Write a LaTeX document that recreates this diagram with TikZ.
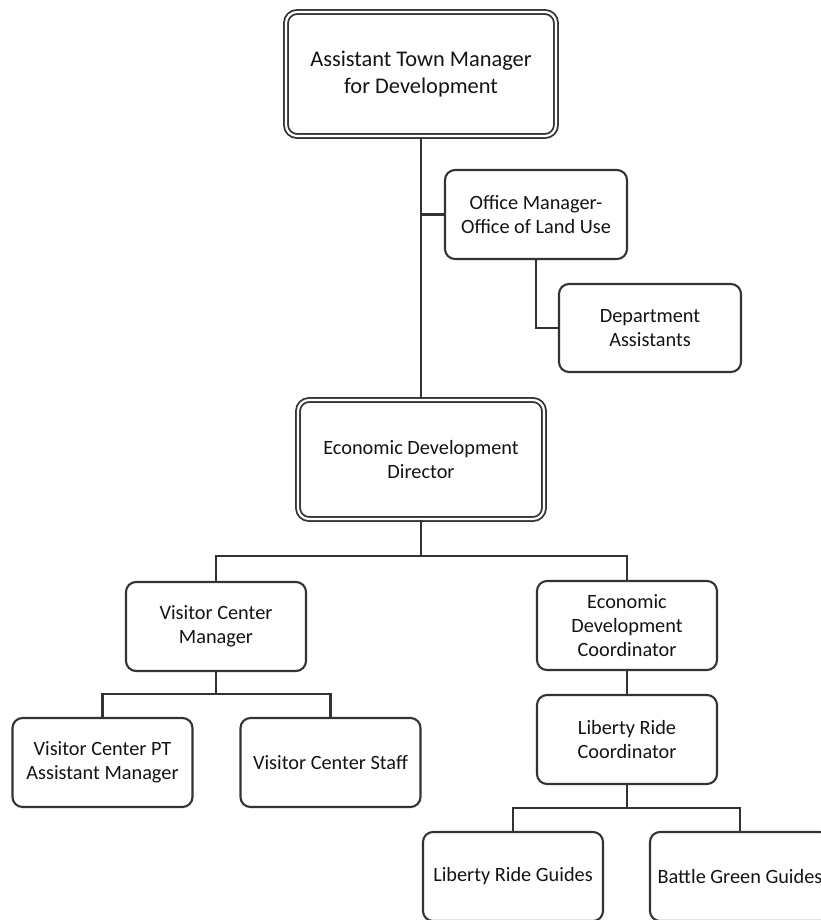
\documentclass[tikz,border=0pt]{standalone}
\usepackage{fontspec}
\setmainfont{Carlito}
\begin{document}
\begin{tikzpicture}[x=1pt,y=-1pt,
  linecol/.style={draw=black!80},
  post/.style={linecol, rectangle, rounded corners=10pt, line width=2.1pt,
    fill=white, align=center, text=black!92, inner sep=0pt,
    minimum width=180pt, minimum height=89pt,
    font=\fontsize{20.3}{23.6}\selectfont},
  headpost/.style={post, rounded corners=11pt, line width=1.8pt,
    double=white, double distance=2.2pt},
  link/.style={linecol, line width=2.8pt}]
\useasboundingbox (0,0) rectangle (821,920);
\clip (0,0) rectangle (821,920);

% senior positions
\node[headpost, minimum width=270pt, minimum height=124pt,
      font=\fontsize{22.4}{27.3}\selectfont] (atm) at (421,74)
      {Assistant Town Manager\\for Development};
\node[post, minimum width=182pt] (om) at (536,214.5) {Office Manager-\\Office of Land Use};
\node[post, minimum width=182pt, minimum height=88pt] (da) at (650,328) {Department\\Assistants};
\node[headpost, minimum width=246pt, minimum height=119pt] (edd) at (421,459.5)
      {Economic Development\\Director};

% second tier
\node[post] (vcm) at (216,626.5) {Visitor Center\\Manager};
\node[post] (edc) at (627,625.5) {Economic\\Development\\Coordinator};

% third tier
\node[post] (pt)  at (102.5,762.5) {Visitor Center PT\\Assistant Manager};
\node[post] (vcs) at (330.5,762.5) {Visitor Center Staff};
\node[post] (lrc) at (627,739.5) {Liberty Ride\\Coordinator};
\node[post] (lrg) at (513,876.5) {Liberty Ride Guides};
\node[post] (bgg) at (740,876.5) {Battle Green Guides};

% bus heights
\coordinate (busA) at (0,556);
\coordinate (busB) at (0,694);
\coordinate (busC) at (0,808);

% reporting lines
\draw[link] (atm.south) -- (edd.north);
\draw[link] (om.west) -- (om.west -| atm.south);
\draw[link] (om.south) |- (da.west);
\draw[link] (edd.south) -- (edd.south |- busA);
\draw[link] (vcm.north) -- (vcm.north |- busA) -- (edc.north |- busA) -- (edc.north);
\draw[link] (vcm.south) -- (vcm.south |- busB);
\draw[link] (pt.north) -- (pt.north |- busB) -- (vcs.north |- busB) -- (vcs.north);
\draw[link] (edc.south) -- (lrc.north);
\draw[link] (lrc.south) -- (lrc.south |- busC);
\draw[link] (lrg.north) -- (lrg.north |- busC) -- (bgg.north |- busC) -- (bgg.north);
\end{tikzpicture}
\end{document}
